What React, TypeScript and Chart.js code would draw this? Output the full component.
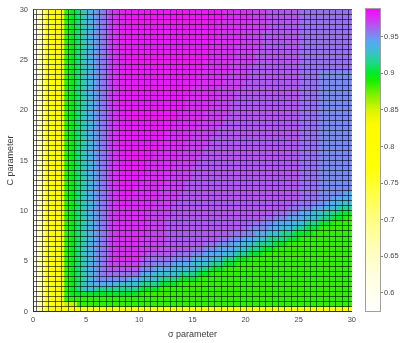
import React, { useEffect, useRef } from "react";
import { Chart, registerables } from "chart.js";

Chart.register(...registerables);

// σ grid (cell edges) and C grid (cell edges)
const sigmaEdges = [
  0, 0.6, 1.2, 1.8, 2.4, 3, 3.6, 4.2, 4.8, 5.4, 6, 6.6, 7.2, 7.8, 8.4, 9, 9.6, 10.2, 10.8, 11.4,
  12, 12.6, 13.2, 13.8, 14.4, 15, 15.6, 16.2, 16.8, 17.4, 18, 18.6, 19.2, 19.8, 20.4, 21, 21.6,
  22.2, 22.8, 23.4, 24, 24.6, 25.2, 25.8, 26.4, 27, 27.6, 28.2, 28.8, 29.4, 30,
];
const cEdges = [
  0, 0.5, 1, 1.5, 2, 2.5, 3, 3.5, 4, 4.5, 5, 5.5, 6, 6.5, 7, 7.5, 8, 8.5, 9, 9.5, 10, 10.5, 11,
  11.5, 12, 12.5, 13, 13.5, 14, 14.5, 15, 15.5, 16, 16.5, 17, 17.5, 18, 18.5, 19, 19.5, 20, 20.5,
  21, 21.5, 22, 22.5, 23, 23.5, 24, 24.5, 25, 25.5, 26, 26.5, 27, 27.5, 28, 28.5, 29, 29.5, 30,
];

// accuracy levels: each character of the grid below is one of these keys
const levelKeys = "0123456789abcdefg";
const levelValues = [
  0.585, 0.665, 0.735, 0.775, 0.805, 0.855, 0.885, 0.9, 0.915, 0.93, 0.942, 0.951, 0.958, 0.964,
  0.97, 0.976, 0.982,
];

// one string per σ column, read from C = 0 (left) up to C = 30 (right)
const columnLevels = [
  "0000000000 0000000000 0000000000 0000000000 0000000000 0000000000",
  "1111111111 1111111111 1111111111 1111111111 1111111111 1111111111",
  "3333333333 3333333333 3333333333 3333333333 3333333333 3333333333",
  "4444444444 4444444444 4444444444 4444444444 4444444444 4444444444",
  "4444444444 4444444444 4444444444 4444444444 4444444444 4444444444",
  "4566666666 6666666666 6666666666 6666666666 6666666666 6666666666",
  "4567777777 7777777777 7777777777 7777777777 7777777777 7777777777",
  "4667888888 8888888888 8888888888 8888888888 8888888888 8888888888",
  "4667999999 9999999999 9999999999 9999999999 9999999999 9999999999",
  "46679aaaaa aaaaaaaaaa aaaaaaaaaa aaaaaaaaaa aaaaaaaaaa aaaaaaaaaa",
  "46678abbbb bbbbbbbbbb bbbbbbbbbb bbbbbbbbbb bbbbbbbbbb bbbbbbbbbb",
  "46678abccc cccccccccc cccccccccc cccccccccc cccccccccc cccccccccc",
  "46678abcde eeeeeeeeee eeeeeeeeee eeeeeeeeee eeeeeeeeee eeeeeeeeee",
  "466789bcde ffffffffff ffffffffff ffffffffff ffffffffff ffffffffff",
  "466789bcde ffffffffff fggggggggg gggggggggg gggggggggg gggggggggg",
  "466789acde ffffffffff fffggggggg gggggggggg gggggggggg gggggggggg",
  "466789acde ffffffffff fffffggggg gggggggggg gggggggggg gggggggggg",
  "4666789abc deeeefffff fffffffggg gggggggggg gggggggggg gggggggggg",
  "4666789abc cdeeeeeeee ffffffffff gggggggggg gggggggggg gggggggggg",
  "46667899ab cdeeeeeeee eeffffffff ffgggggggg gggggggggg gggggggggg",
  "46666789ab cddeeeeeee eeeeefffff ffffgggggg gggggggggg gggggggggg",
  "46666789ab cdddddddde eeeeeeefff ffffffgggg gggggggggg gggggggggg",
  "466667899a bcdddddddd ddeeeeeeee ffffffffgg gggggggggg gggggggggg",
  "466666789a bcdddddddd ddddeeeeee eeffffffff gggggggggg gggggggggg",
  "466666789a bcdddddddd ddddddeeee eeeeffffff fffggggggg gggggggggg",
  "4666667899 abcddddddd ddddddddde eeeeeeffff fffffggggg gggggggggg",
  "4666666789 abcddddddd dddddddddd deeeeeeeff ffffffffgg gggggggggg",
  "4666666789 aabcdddddd dddddddddd dddeeeeeee ffffffffff gggggggggg",
  "4666666678 9abcdddddd dddddddddd dddddeeeee eeffffffff ffffgggggg",
  "4666666678 9aabcddddd dddddddddd dddddddeee eeeeefffff ffffffffgg",
  "4666666667 89abcddddd dddddddddd ddddddddde eeeeeeefff ffffffffff",
  "4666666667 89aabcdddd dddddddddd dddddddddd ddeeeeeeee ffffffffff",
  "4666666666 789abcdddd dddddddddd dddddddddd ddddeeeeee eeefffffff",
  "4666666666 7899abcddd dddddddddd dddddddddd ddddddeeee eeeeeeefff",
  "4666666666 6789abbcdd dddddddddd dddddddddd ddddddddde eeeeeeeeee",
  "4666666666 67889abcdd dddddddddd dddddddddd dddddddddd ddeeeeeeee",
  "4666666666 66789abbcd dddddddddd dddddddddd dddddddddd ddddddeeee",
  "4666666666 667889abcd dddddddddd dddddddddd dddddddddd dddddddddd",
  "4666666666 666789aabc dddddddddd dddddddddd dddddddddd dddddddddd",
  "4666666666 6667889abc dddddddddd dddddddddd dddddddddd dddddddddd",
  "4666666666 6666789aab cddddddddd dddddddddd dddddddddd dddddddddd",
  "4666666666 66667789ab ccdddddddd dddddddddd dddddddddd dddddddddd",
  "4666666666 66666789aa bccccccccc cccccccccc cccccccccc cccccccccc",
  "4666666666 666667789a bccccccccc cccccccccc cccccccccc cccccccccc",
  "4666666666 6666667899 abcccccccc cccccccccc cccccccccc cccccccccc",
  "4666666666 6666666789 abbbbbbbbb bbbbbbbbbb bbbbbbbbcc cccccccccc",
  "4666666666 6666666788 9abbbbbbbb bbbbbbbbbb bbbbbbbbcc cccccccccc",
  "4666666666 6666666678 9aabbbbbbb bbbbbbbbbb bbbbbbbbcc cccccccccc",
  "4666666666 6666666677 89abbbbbbb bbbbbbbbbb bbbbbbbbcc cccccccccc",
  "4666666666 6666666667 89aabbbbbb bbbbbbbbbb bbbbbbbbcc cccccccccc",
];

const xTicks = [0, 5, 10, 15, 20, 25, 30];
const yTicks = [0, 5, 10, 15, 20, 25, 30];

// colour bar
const cbMin = 0.574;
const cbMax = 0.989;
const cbTicks = [0.6, 0.65, 0.7, 0.75, 0.8, 0.85, 0.9, 0.95];
const cmapValues = [
  0.574, 0.62, 0.66, 0.7, 0.74, 0.77, 0.83, 0.85, 0.87, 0.89, 0.9, 0.915, 0.93, 0.942, 0.952,
  0.96, 0.97, 0.989,
];
const cmapColors: number[][] = [
  [255, 255, 255],
  [255, 255, 225],
  [255, 255, 185],
  [255, 255, 130],
  [255, 255, 60],
  [255, 255, 5],
  [255, 250, 0],
  [215, 245, 0],
  [130, 240, 0],
  [20, 240, 0],
  [0, 235, 40],
  [30, 215, 140],
  [60, 190, 210],
  [85, 170, 240],
  [125, 135, 240],
  [160, 105, 240],
  [200, 65, 240],
  [255, 0, 255],
];

function colorFor(v: number): string {
  if (v <= cmapValues[0]) return `rgb(${cmapColors[0].join(",")})`;
  for (let i = 1; i < cmapValues.length; i++) {
    if (v <= cmapValues[i]) {
      const t = (v - cmapValues[i - 1]) / (cmapValues[i] - cmapValues[i - 1]);
      const a = cmapColors[i - 1];
      const b = cmapColors[i];
      const c = a.map((x, k) => Math.round(x + (b[k] - x) * t));
      return `rgb(${c.join(",")})`;
    }
  }
  return `rgb(${cmapColors[cmapColors.length - 1].join(",")})`;
}

const FONT = "'Liberation Sans', Arial, Helvetica, sans-serif";
const TICK_COLOR = "#4a4a4a";
const TITLE_COLOR = "#3a3a3a";
const MESH_COLOR = "rgba(0,0,0,0.6)";

export default function App() {
  const mainRef = useRef<HTMLCanvasElement>(null);
  const barRef = useRef<HTMLCanvasElement>(null);

  useEffect(() => {
    const charts: Chart[] = [];
    const points: any[] = [];
    const colors: string[] = [];
    columnLevels.forEach((raw, j) => {
      const s = raw.replace(/ /g, "");
      const xc = (sigmaEdges[j] + sigmaEdges[j + 1]) / 2;
      for (let i = 0; i < cEdges.length - 1; i++) {
        const ch = s[i] ?? s[s.length - 1];
        const v = levelValues[levelKeys.indexOf(ch)];
        points.push({ x: xc, y: [cEdges[i], cEdges[i + 1]] });
        colors.push(colorFor(v));
      }
    });

    if (mainRef.current) {
      charts.push(
        new Chart(mainRef.current, {
          type: "bar",
          data: {
            datasets: [
              {
                data: points,
                backgroundColor: colors,
                borderWidth: 0,
                inflateAmount: 0.6,
                barPercentage: 1,
                categoryPercentage: 1,
                xAxisID: "x",
                yAxisID: "y",
              } as any,
            ],
          },
          options: {
            responsive: false,
            animation: false,
            layout: { padding: { top: 9, right: 8, left: 0, bottom: 0 } },
            plugins: { legend: { display: false }, tooltip: { enabled: false } },
            scales: {
              x: {
                type: "linear",
                position: "bottom",
                min: 0,
                max: 30,
                offset: false,
                grid: { display: false, drawTicks: false },
                border: { display: true, color: "#303030", width: 1, z: 2 },
                afterBuildTicks: (s: any) => {
                  s.ticks = xTicks.map((v) => ({ value: v }));
                },
                afterFit: (s: any) => {
                  s.height = 31.5;
                },
                ticks: {
                  padding: 4,
                  color: TICK_COLOR,
                  font: { family: FONT, size: 7.5 },
                  maxRotation: 0,
                  callback: (v: any) => String(v),
                },
                title: {
                  display: true,
                  text: "σ parameter",
                  color: TITLE_COLOR,
                  font: { family: FONT, size: 9 },
                  padding: { top: 0, bottom: 3.5 },
                },
              },
              y: {
                type: "linear",
                position: "left",
                min: 0,
                max: 30,
                grid: { display: false, drawTicks: false },
                border: { display: true, color: "#303030", width: 1, z: 2 },
                afterBuildTicks: (s: any) => {
                  s.ticks = yTicks.map((v) => ({ value: v }));
                },
                afterFit: (s: any) => {
                  s.width = 33;
                },
                ticks: {
                  padding: 5,
                  color: TICK_COLOR,
                  font: { family: FONT, size: 7.5 },
                  callback: (v: any) => String(v),
                },
                title: {
                  display: true,
                  text: "C parameter",
                  color: TITLE_COLOR,
                  font: { family: FONT, size: 9 },
                  padding: { top: 5.6, bottom: 0 },
                },
              },
              xm: {
                type: "linear",
                position: "top",
                min: 0,
                max: 30,
                offset: false,
                grid: { display: true, drawTicks: false, color: MESH_COLOR, lineWidth: 1, z: 1 },
                border: { display: false },
                ticks: { display: false },
                afterBuildTicks: (s: any) => {
                  s.ticks = sigmaEdges.map((v) => ({ value: v }));
                },
                afterFit: (s: any) => {
                  s.height = 0;
                },
              },
              ym: {
                type: "linear",
                position: "right",
                min: 0,
                max: 30,
                grid: { display: true, drawTicks: false, color: MESH_COLOR, lineWidth: 1, z: 1 },
                border: { display: false },
                ticks: { display: false },
                afterBuildTicks: (s: any) => {
                  s.ticks = cEdges.map((v) => ({ value: v }));
                },
                afterFit: (s: any) => {
                  s.width = 0;
                },
              },
            },
          } as any,
        })
      );
    }

    if (barRef.current) {
      charts.push(
        new Chart(barRef.current, {
          type: "bar",
          data: {
            labels: [""],
            datasets: [
              {
                data: [[cbMin, cbMax]],
                backgroundColor: (c: any) => {
                  const chart = c.chart;
                  const ys = chart.scales?.y;
                  if (!ys || !chart.chartArea) return "#ffffff";
                  const g = chart.ctx.createLinearGradient(
                    0,
                    ys.getPixelForValue(cbMin),
                    0,
                    ys.getPixelForValue(cbMax)
                  );
                  cmapValues.forEach((v, k) => {
                    g.addColorStop(
                      Math.min(1, Math.max(0, (v - cbMin) / (cbMax - cbMin))),
                      `rgb(${cmapColors[k].join(",")})`
                    );
                  });
                  return g;
                },
                borderColor: "#a0a0a0",
                borderWidth: 1,
                borderSkipped: false,
                inflateAmount: 0,
                barPercentage: 1,
                categoryPercentage: 1,
              } as any,
            ],
          },
          options: {
            responsive: false,
            animation: false,
            layout: { padding: { top: 8, right: 0, left: 5, bottom: 31 } },
            plugins: { legend: { display: false }, tooltip: { enabled: false } },
            scales: {
              x: { display: false },
              y: {
                position: "right",
                min: cbMin,
                max: cbMax,
                grid: {
                  display: true,
                  drawOnChartArea: false,
                  drawTicks: true,
                  tickLength: 2,
                  color: "#808080",
                },
                border: { display: false },
                afterBuildTicks: (s: any) => {
                  s.ticks = cbTicks.map((v) => ({ value: v }));
                },
                afterFit: (s: any) => {
                  s.width = 28;
                },
                ticks: {
                  padding: 1,
                  color: TICK_COLOR,
                  font: { family: FONT, size: 7.5 },
                  callback: (v: any) => String(Math.round(Number(v) * 100) / 100),
                },
              },
            },
          } as any,
        })
      );
    }

    return () => charts.forEach((c) => c.destroy());
  }, []);

  return (
    <div
      style={{
        position: "absolute",
        left: 0,
        top: 0,
        width: 409,
        height: 343,
        background: "#ffffff",
      }}
    >
      <canvas
        ref={mainRef}
        width={360}
        height={343}
        style={{ position: "absolute", left: 0, top: 0, width: 360, height: 343 }}
      />
      <canvas
        ref={barRef}
        width={49}
        height={343}
        style={{ position: "absolute", left: 360, top: 0, width: 49, height: 343 }}
      />
    </div>
  );
}
